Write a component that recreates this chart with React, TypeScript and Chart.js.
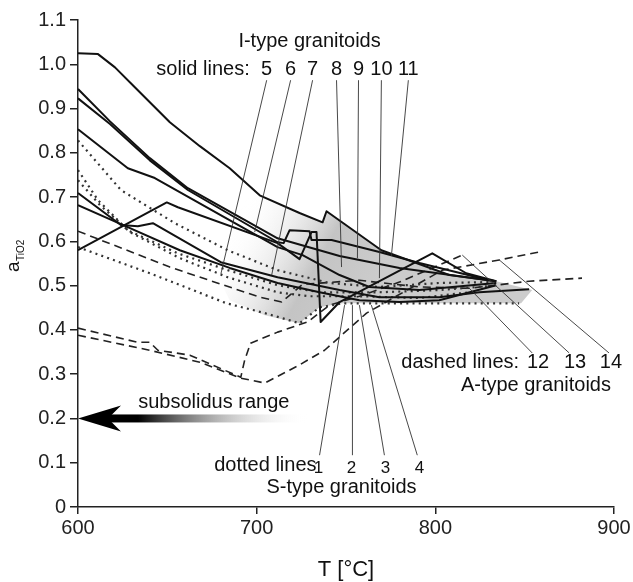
import React, { useEffect, useRef } from 'react';
import { Chart, registerables } from 'chart.js';
Chart.register(...registerables);

const FONT = '"Liberation Sans", Arial, Helvetica, sans-serif';

// ---------- I-type granitoids (solid lines) ----------
const s5T = [600, 611.2, 620.7, 631.8, 651.4, 668.2, 684.9, 701.7, 724.0, 736.9, 739.1, 769.8, 807.8, 834.1];
const s5A = [1.025, 1.023, 0.993, 0.948, 0.869, 0.815, 0.765, 0.704, 0.664, 0.643, 0.668, 0.580, 0.524, 0.510];
const s6T = [600, 617.9, 640.2, 661.5, 711.7, 746.4, 779.9, 834.1];
const s6A = [0.944, 0.871, 0.788, 0.720, 0.607, 0.567, 0.540, 0.510];
const s7T = [600, 617.9, 640.2, 661.5, 711.7, 715.1, 718.4, 729.6, 730.7, 741.9, 768.7, 791.1, 830.2];
const s7A = [0.923, 0.865, 0.783, 0.716, 0.598, 0.596, 0.625, 0.623, 0.603, 0.603, 0.576, 0.551, 0.512];
const s8T = [600, 627.9, 643.0, 711.7, 725.7, 746.4, 763.1, 791.1, 834.1];
const s8A = [0.853, 0.765, 0.743, 0.587, 0.569, 0.524, 0.497, 0.490, 0.506];
const s9T = [600, 624.0, 633.5, 641.9, 679.9, 711.7, 746.4, 768.7, 802.2, 824.6, 852.5];
const s9A = [0.709, 0.637, 0.634, 0.641, 0.553, 0.519, 0.490, 0.474, 0.474, 0.485, 0.492];
const s10T = [600, 629.1, 657.0, 684.9, 711.7, 735.2, 757.5, 779.9, 802.2, 834.1];
const s10A = [0.682, 0.630, 0.580, 0.540, 0.506, 0.485, 0.467, 0.463, 0.467, 0.501];
const s11T = [600, 649.7, 655.9, 711.7, 724.0, 730.7, 733.5, 735.8, 746.4, 798.3, 817.3, 834.1];
const s11A = [0.580, 0.688, 0.677, 0.596, 0.560, 0.621, 0.621, 0.418, 0.463, 0.573, 0.528, 0.510];

// ---------- S-type granitoids (dotted lines) ----------
const d1T = [600, 624.0, 654.2, 683.8, 711.7, 740.8, 768.7, 802.2, 830.2];
const d1A = [0.828, 0.716, 0.641, 0.580, 0.535, 0.506, 0.497, 0.506, 0.508];
const d2T = [600, 611.2, 627.9, 655.9, 683.8, 711.7, 735.2, 768.7, 802.2, 830.2];
const d2A = [0.761, 0.693, 0.625, 0.573, 0.535, 0.501, 0.485, 0.485, 0.490, 0.499];
const d3T = [600, 612.3, 629.1, 657.0, 683.8, 711.7, 729.6, 757.5, 791.1, 819.0];
const d3A = [0.738, 0.682, 0.621, 0.562, 0.519, 0.485, 0.476, 0.476, 0.472, 0.485];
const d4T = [600, 640.2, 683.2, 704.5, 724.0, 735.2, 748.0, 846.9];
const d4A = [0.587, 0.528, 0.460, 0.438, 0.415, 0.451, 0.460, 0.460];

// ---------- A-type granitoids (dashed lines) ----------
const a12T = [600, 651.4, 701.7, 714.0, 725.7, 757.5, 791.1, 819.0, 852.5, 882.1];
const a12A = [0.623, 0.542, 0.474, 0.463, 0.503, 0.512, 0.497, 0.494, 0.510, 0.517];
const a13T = [600, 633.5, 640.2, 644.7, 662.6, 691.1, 693.3, 696.6, 711.7, 728.5, 740.8, 757.5, 779.9, 815.1];
const a13A = [0.404, 0.372, 0.372, 0.354, 0.343, 0.293, 0.332, 0.370, 0.395, 0.418, 0.456, 0.476, 0.508, 0.569];
const a14T = [600, 640.2, 668.2, 691.1, 704.5, 724.0, 738.0, 761.5, 803.9, 835.8, 858.1];
const a14A = [0.388, 0.354, 0.327, 0.291, 0.280, 0.321, 0.354, 0.438, 0.535, 0.558, 0.576];

// ---------- shaded field ----------
const shadeT = [690.5, 701.7, 724.0, 736.9, 739.1, 769.8, 807.8, 834.1, 854.2, 848.0, 748.0, 735.2, 724.0, 704.5, 684.9, 676.5];
const shadeA = [0.738, 0.704, 0.666, 0.643, 0.668, 0.580, 0.524, 0.510, 0.490, 0.460, 0.460, 0.451, 0.415, 0.433, 0.467, 0.535];

// ---------- axis ticks ----------
const xTicks = [600, 700, 800, 900];
const yMin = 0, yMax = 1.1, yStep = 0.1;

// ---------- annotations (data coordinates) ----------
const solidNums = ['5', '6', '7', '8', '9', '10', '11'];
const solidNumT = [705.6, 719.0, 731.3, 744.7, 757.0, 769.8, 784.9];
const solidLeadEndT = [680.0, 698.9, 708.4, 747.5, 756.4, 768.7, 775.4];
const solidLeadEndA = [0.527, 0.621, 0.524, 0.542, 0.562, 0.517, 0.567];
const dashNums = ['12', '13', '14'];
const dashNumT = [857.5, 878.2, 898.3];
const dashLeadStartT = [854.2, 874.9, 897.2];
const dashLeadEndT = [819.0, 815.1, 835.8];
const dashLeadEndA = [0.494, 0.569, 0.558];
const dotNums = ['1', '2', '3', '4'];
const dotNumT = [734.6, 753.1, 772.1, 791.1];
const dotLeadStartT = [735.2, 753.6, 771.5, 789.9];
const dotLeadEndT = [749.2, 753.6, 757.5, 764.2];
const dotLeadEndA = [0.456, 0.456, 0.456, 0.456];

const toPts = (T: number[], A: number[]) => T.map((t, i) => ({ x: t, y: A[i] }));

const solid = (T: number[], A: number[]) => ({
  data: toPts(T, A), showLine: true, pointRadius: 0, borderColor: '#111', borderWidth: 2, tension: 0, fill: false,
});
const dotted = (T: number[], A: number[]) => ({
  data: toPts(T, A), showLine: true, pointRadius: 0, borderColor: '#333', borderWidth: 2.2, borderDash: [2, 4.2], tension: 0, fill: false,
});
const dashed = (T: number[], A: number[]) => ({
  data: toPts(T, A), showLine: true, pointRadius: 0, borderColor: '#222', borderWidth: 1.6, borderDash: [8, 5], tension: 0, fill: false,
});

const annotPlugin = {
  id: 'annot',
  beforeDatasetsDraw(chart: any) {
    const { ctx, scales: { x, y } } = chart;
    ctx.save();
    const g = ctx.createLinearGradient(x.getPixelForValue(684), y.getPixelForValue(0.62), x.getPixelForValue(760), y.getPixelForValue(0.45));
    g.addColorStop(0, 'rgba(255,255,255,0)');
    g.addColorStop(0.6, 'rgba(196,196,196,1)');
    g.addColorStop(1, 'rgba(204,204,204,1)');
    ctx.fillStyle = g;
    ctx.beginPath();
    shadeT.forEach((t, i) => {
      const px = x.getPixelForValue(t), py = y.getPixelForValue(shadeA[i]);
      if (i === 0) ctx.moveTo(px, py); else ctx.lineTo(px, py);
    });
    ctx.closePath();
    ctx.fill();
    ctx.restore();
  },
  afterDatasetsDraw(chart: any) {
    const { ctx, scales: { x, y }, chartArea } = chart;
    const X = (t: number) => x.getPixelForValue(t);
    const Y = (a: number) => y.getPixelForValue(a);
    ctx.save();
    ctx.strokeStyle = '#333';
    ctx.lineWidth = 0.9;
    ctx.setLineDash([]);
    const seg = (t1: number, a1: number, t2: number, a2: number) => {
      ctx.beginPath(); ctx.moveTo(X(t1), Y(a1)); ctx.lineTo(X(t2), Y(a2)); ctx.stroke();
    };
    solidNumT.forEach((t, i) => seg(t, 0.964, solidLeadEndT[i], solidLeadEndA[i]));
    dashLeadStartT.forEach((t, i) => seg(t, 0.348, dashLeadEndT[i], dashLeadEndA[i]));
    dotLeadStartT.forEach((t, i) => seg(t, 0.117, dotLeadEndT[i], dotLeadEndA[i]));

    ctx.fillStyle = '#111';
    ctx.textBaseline = 'middle';
    const txt = (s: string, t: number, a: number, align: string, size: number) => {
      ctx.font = `${size}px ${FONT}`;
      ctx.textAlign = align;
      ctx.fillText(s, X(t), Y(a));
    };
    txt('I-type granitoids', 729.6, 1.052, 'center', 20);
    txt('solid lines:', 696.1, 0.989, 'right', 20);
    solidNums.forEach((s, i) => txt(s, solidNumT[i], 0.989, 'center', 20));
    txt('dashed lines:', 846.9, 0.327, 'right', 20);
    dashNums.forEach((s, i) => txt(s, dashNumT[i], 0.327, 'center', 20));
    txt('A-type granitoids', 898.3, 0.275, 'right', 20);
    txt('subsolidus range', 676.0, 0.237, 'center', 20);
    txt('dotted lines', 733.5, 0.093, 'right', 20);
    dotNums.forEach((s, i) => txt(s, dotNumT[i], 0.088, 'center', 17));
    txt('S-type granitoids', 747.5, 0.045, 'center', 20);

    const tipX = X(600), tipY = Y(0.2), tailX = X(729);
    const ag = ctx.createLinearGradient(tailX, 0, tipX + 60, 0);
    ag.addColorStop(0, 'rgba(255,255,255,0)');
    ag.addColorStop(1, 'rgba(0,0,0,1)');
    ctx.fillStyle = ag;
    ctx.fillRect(tipX + 28, tipY - 4, tailX - tipX - 28, 8);
    ctx.fillStyle = '#000';
    ctx.beginPath();
    ctx.moveTo(tipX, tipY);
    ctx.lineTo(tipX + 43, tipY - 13);
    ctx.lineTo(tipX + 30, tipY);
    ctx.lineTo(tipX + 43, tipY + 13);
    ctx.closePath();
    ctx.fill();

    ctx.fillStyle = '#111';
    ctx.textAlign = 'center';
    ctx.textBaseline = 'alphabetic';
    ctx.font = `22px ${FONT}`;
    ctx.fillText('T [°C]', (chartArea.left + chartArea.right) / 2, 576);
    ctx.translate(19, 272);
    ctx.rotate(-Math.PI / 2);
    ctx.textAlign = 'left';
    ctx.font = `19px ${FONT}`;
    ctx.fillText('a', 0, 0);
    const w = ctx.measureText('a').width;
    ctx.font = `10px ${FONT}`;
    ctx.fillText('TiO2', w + 0.5, 5);
    ctx.restore();
  },
};

export default function App() {
  const ref = useRef<HTMLCanvasElement | null>(null);
  useEffect(() => {
    document.body.style.margin = '0';
    document.body.style.overflow = 'hidden';
    const canvas = ref.current!;
    const chart = new Chart(canvas, {
      type: 'scatter',
      data: {
        datasets: [
          solid(s5T, s5A), solid(s6T, s6A), solid(s7T, s7A), solid(s8T, s8A),
          solid(s9T, s9A), solid(s10T, s10A), solid(s11T, s11A),
          dotted(d1T, d1A), dotted(d2T, d2A), dotted(d3T, d3A), dotted(d4T, d4A),
          dashed(a12T, a12A), dashed(a13T, a13A), dashed(a14T, a14A),
        ] as any,
      },
      options: {
        responsive: false,
        animation: false,
        devicePixelRatio: 1,
        layout: { padding: { left: 0, right: 19, top: 20, bottom: 0 } },
        plugins: { legend: { display: false }, tooltip: { enabled: false } },
        elements: { line: { borderCapStyle: 'butt', borderJoinStyle: 'round' } },
        scales: {
          x: {
            type: 'linear', min: xTicks[0], max: xTicks[xTicks.length - 1],
            afterFit: (s: any) => { s.height = 75; },
            afterBuildTicks: (s: any) => { s.ticks = xTicks.map((v) => ({ value: v })); },
            ticks: { color: '#222', font: { size: 20, family: FONT }, padding: 2 },
            grid: { drawOnChartArea: false, drawTicks: true, tickLength: 7, color: '#222', lineWidth: 1.5 },
            border: { display: true, color: '#222', width: 1.5 },
          },
          y: {
            type: 'linear', min: yMin, max: yMax,
            afterFit: (s: any) => { s.width = 78; },
            ticks: {
              stepSize: yStep, color: '#222', font: { size: 20, family: FONT }, padding: 4,
              callback: (v: any) => (Math.abs(v) < 1e-9 ? '0' : Number(v).toFixed(1)),
            },
            grid: { drawOnChartArea: false, drawTicks: true, tickLength: 8, color: '#222', lineWidth: 1.5 },
            border: { display: true, color: '#222', width: 1.5 },
          },
        },
      } as any,
      plugins: [annotPlugin],
    });
    return () => chart.destroy();
  }, []);
  return (
    <div style={{ width: 633, height: 582 }}>
      <canvas ref={ref} width={633} height={582} style={{ display: 'block' }} />
    </div>
  );
}
